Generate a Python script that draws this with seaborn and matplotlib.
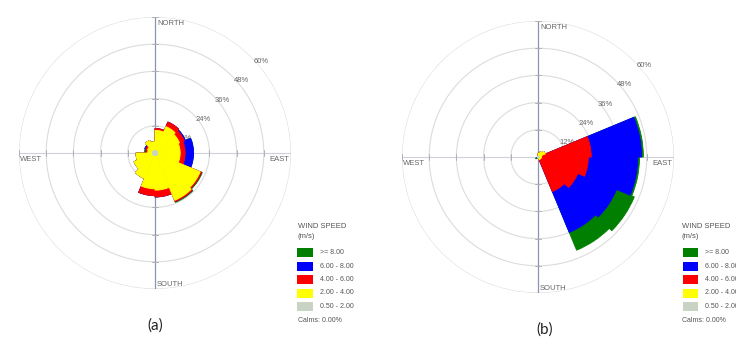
import numpy as np
import matplotlib
matplotlib.use("Agg")
import matplotlib.pyplot as plt
from matplotlib.patches import Rectangle
import seaborn as sns

# 16 direction sectors, bar centres in degrees clockwise from north
sector_deg = np.arange(16) * 22.5 + 11.25

speed_classes = ["0.50 - 2.00", "2.00 - 4.00", "4.00 - 6.00", "6.00 - 8.00", ">= 8.00"]
class_colors = ["#c9d3c4", "#ffff00", "#ff0000", "#0000ff", "#007f00"]

# rose (a): frequency (%) of each speed class per sector
a_0p5_2 = [1.2, 1.2, 1.1, 1.2, 1.2, 1.3, 1.2, 1.2, 1.2, 1.1, 1.1, 1.2, 1.0, 1.1, 1.1, 1.0]
a_2_4 = [8.8, 11.4, 10.6, 9.9, 9.9, 20.3, 21.4, 15.2, 14.6, 11.1, 8.9, 7.2, 2.2, 2.5, 4.9, 4.0]
a_4_6 = [0.8, 2.2, 2.3, 2.2, 2.2, 0.6, 0.6, 3.0, 3.0, 0.0, 0.0, 0.0, 0.9, 0.8, 0.0, 0.0]
a_6_8 = [0.0, 0.0, 0.5, 3.7, 3.7, 0.0, 0.0, 0.0, 0.0, 0.0, 0.0, 0.0, 0.0, 0.5, 0.0, 0.0]
a_8_up = [0.0, 0.0, 0.0, 0.0, 0.0, 0.4, 0.4, 0.0, 0.0, 0.0, 0.0, 0.0, 0.6, 0.0, 0.0, 0.0]

# rose (b)
b_0p5_2 = [0.5, 0.5, 0.5, 0.5, 0.5, 0.5, 0.5, 0.0, 0.0, 0.0, 0.4, 0.0, 0.0, 0.0, 0.0, 0.0]
b_2_4 = [1.2, 2.0, 3.0, 1.0, 1.0, 0.8, 0.8, 0.5, 0.0, 0.0, 0.0, 0.0, 0.0, 0.0, 0.0, 0.0]
b_4_6 = [0.0, 0.0, 0.0, 22.0, 20.7, 17.7, 15.2, 0.0, 0.0, 0.0, 0.0, 0.0, 0.0, 0.0, 0.0, 0.0]
b_6_8 = [0.0, 0.0, 0.0, 22.2, 21.8, 18.5, 19.5, 0.0, 0.0, 0.0, 0.3, 0.0, 0.0, 0.0, 0.0, 0.0]
b_8_up = [0.0, 0.0, 0.0, 0.8, 0.8, 8.5, 8.5, 0.0, 0.0, 0.0, 0.5, 0.0, 0.0, 0.0, 0.0, 0.0]

ring_values = [12, 24, 36, 48, 60]
ring_labels = ["12%", "24%", "36%", "48%", "60%"]
compass = ["NORTH", "EAST", "SOUTH", "WEST"]
legend_title = ["WIND SPEED", "(m/s)"]
calms_text = "Calms: 0.00%"
captions = ["(a)", "(b)"]

W, H = 736, 356
R_PX = 136          # radius of the 60 % ring in pixels
RMAX = ring_values[-1]

sns.set_style("white")
plt.rcParams["font.family"] = ["Liberation Sans", "DejaVu Sans"]

fig = plt.figure(figsize=(W / 100, H / 100), dpi=100)


def fx(px):
    return px / W


def fy(py):
    return 1 - py / H


def draw_rose(cx, cy, classes):
    ax = fig.add_axes([fx(cx - R_PX), fy(cy + R_PX), 2 * R_PX / W, 2 * R_PX / H],
                      projection="polar")
    ax.set_theta_zero_location("N")
    ax.set_theta_direction(-1)
    theta = np.deg2rad(sector_deg)
    cum = np.cumsum(np.array(classes, dtype=float), axis=0)
    # outermost class first, inner classes painted over it
    for k in range(len(cum) - 1, -1, -1):
        sns.barplot(x=theta, y=cum[k], native_scale=True, width=1.0,
                    color=class_colors[k], saturation=1, errorbar=None,
                    linewidth=0.6, edgecolor=class_colors[k], zorder=3, ax=ax)
    ax.set_ylim(0, RMAX)
    ax.set_xticks([])
    ax.set_yticks([])
    ax.grid(False)
    ax.set_xlabel("")
    ax.set_ylabel("")
    ax.spines["polar"].set_visible(False)
    ax.set_facecolor("none")

    th = np.linspace(0, 2 * np.pi, 500)
    for r in ring_values:
        ax.plot(th, np.full_like(th, r), color="#dcdcdc", lw=0.8, zorder=1)
    for ang in (0, np.pi):
        ax.plot([ang, ang], [0, RMAX], color="#8a93b0", lw=0.9, zorder=2)
    for ang in (np.pi / 2, 3 * np.pi / 2):
        ax.plot([ang, ang], [0, RMAX], color="#cdd1de", lw=0.8, zorder=2)
    # small ticks where the axes cross the rings
    for r in ring_values:
        d = 3.0 / (r * R_PX / RMAX)
        for ang in (0, np.pi / 2, np.pi, 3 * np.pi / 2):
            ax.plot([ang - d, ang + d], [r, r], color="#b0b0b0", lw=0.7, zorder=2)

    for r, lbl in zip(ring_values, ring_labels):
        ax.annotate(lbl, xy=(np.pi / 4, r), xytext=(1.5, -1), textcoords="offset points",
                    ha="left", va="top", fontsize=5.5, color="#666666", zorder=2,
                    annotation_clip=False)

    txt = dict(textcoords="offset points", fontsize=5.5, color="#666666",
               annotation_clip=False, zorder=4)
    ax.annotate(compass[0], xy=(0, RMAX), xytext=(1.5, -2), ha="left", va="top", **txt)
    ax.annotate(compass[1], xy=(np.pi / 2, RMAX), xytext=(-1, -2), ha="right", va="top", **txt)
    ax.annotate(compass[2], xy=(np.pi, RMAX), xytext=(1.5, 1), ha="left", va="bottom", **txt)
    ax.annotate(compass[3], xy=(3 * np.pi / 2, RMAX), xytext=(1, -2), ha="left", va="top", **txt)
    return ax


def draw_legend(x_title, x_box, x_text, box_w):
    fig.text(fx(x_title), fy(226), legend_title[0], ha="left", va="center",
             fontsize=5.5, color="#555555")
    fig.text(fx(x_title), fy(237), legend_title[1], ha="left", va="center",
             fontsize=5.5, color="#555555")
    order = list(range(len(speed_classes)))[::-1]
    for i, k in enumerate(order):
        yc = 252.5 + 13.5 * i
        fig.add_artist(Rectangle((fx(x_box), fy(yc + 4.5)), box_w / W, 9 / H,
                                 transform=fig.transFigure, facecolor=class_colors[k],
                                 edgecolor="none"))
        fig.text(fx(x_text), fy(yc), speed_classes[k], ha="left", va="center",
                 fontsize=5, color="#555555")
    fig.text(fx(x_title), fy(320), calms_text, ha="left", va="center",
             fontsize=5, color="#555555")


draw_rose(155, 153, [a_0p5_2, a_2_4, a_4_6, a_6_8, a_8_up])
draw_rose(538, 157, [b_0p5_2, b_2_4, b_4_6, b_6_8, b_8_up])

draw_legend(298, 297, 320, 16)
draw_legend(682, 683, 705, 15)

fig.text(fx(155), fy(326), captions[0], ha="center", va="center", fontsize=11,
         family=["Lato", "DejaVu Sans"], color="#222222")
fig.text(fx(545), fy(330), captions[1], ha="center", va="center", fontsize=11,
         family=["Lato", "DejaVu Sans"], color="#222222")

fig.savefig("out.png", dpi=100, facecolor="white")
